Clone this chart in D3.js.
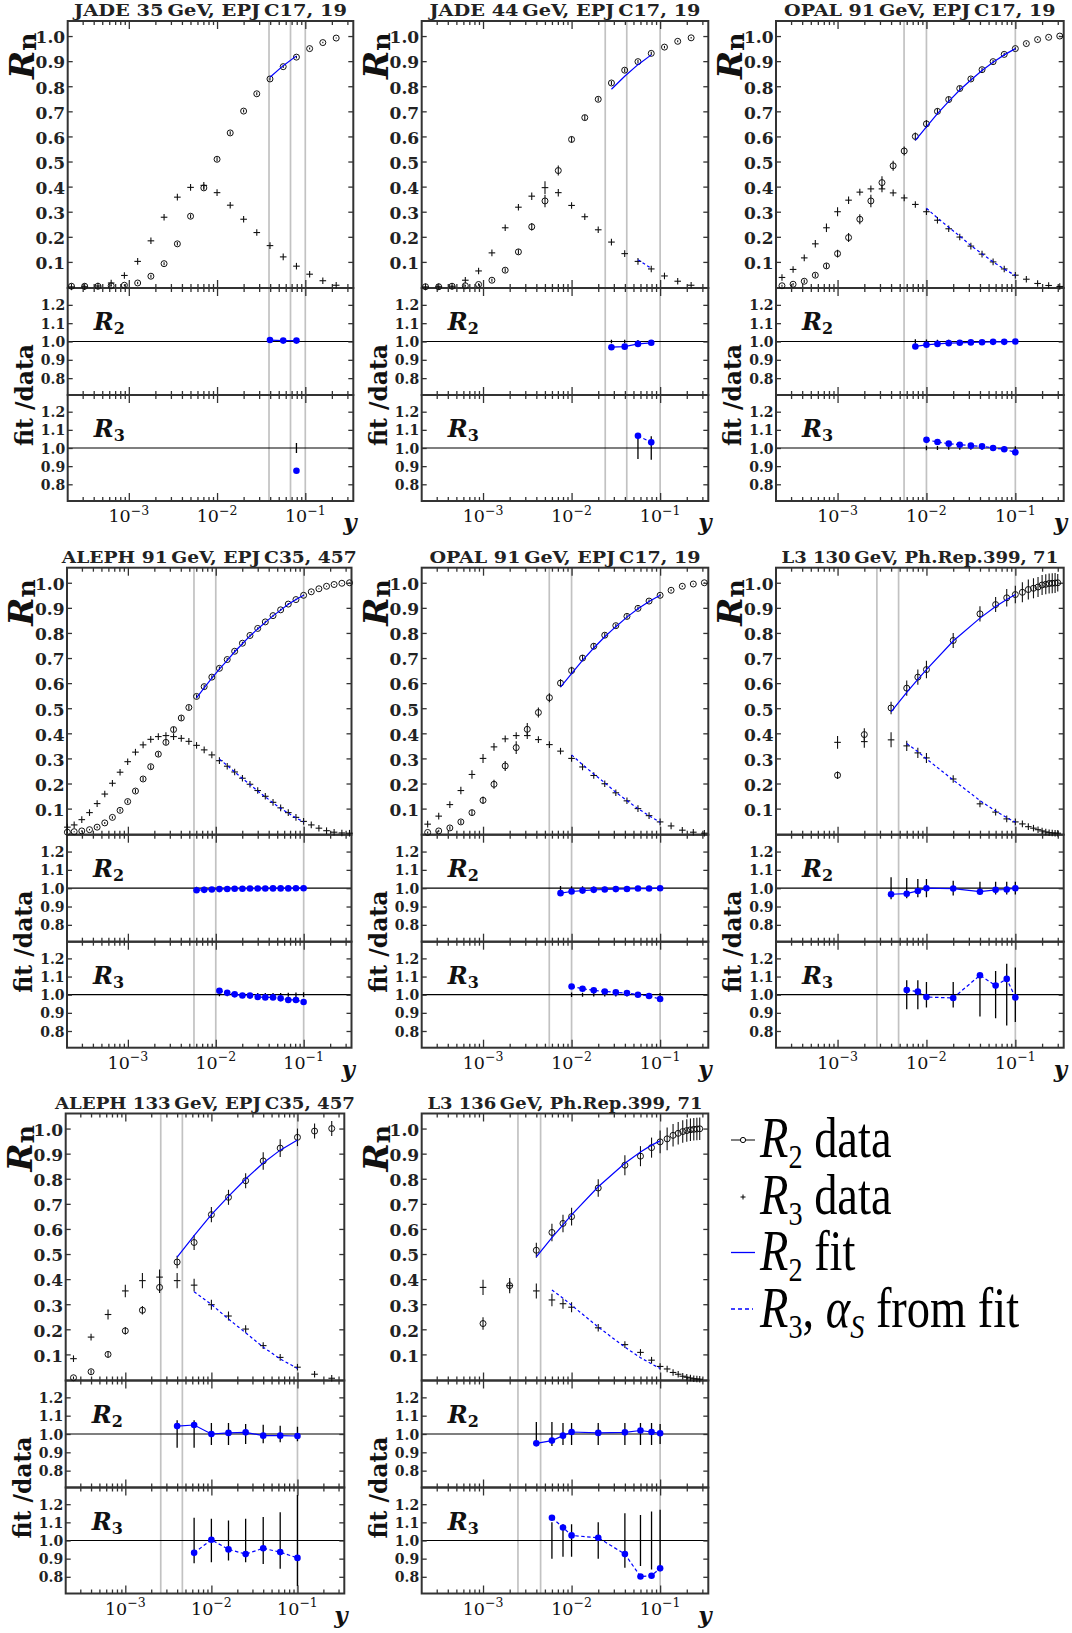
<!DOCTYPE html>
<html><head><meta charset="utf-8">
<script src="https://cdn.jsdelivr.net/npm/d3@7"></script>
<style>body{margin:0;background:#fff}svg{display:block}</style>
</head><body><svg id="c" width="1072" height="1633"></svg>
<script>
// ---------------- DATA ----------------
const titles = ["JADE 35\u2009GeV, EPJ\u2009C17, 19","JADE 44\u2009GeV, EPJ\u2009C17, 19","OPAL 91\u2009GeV, EPJ\u2009C17, 19",
  "ALEPH 91\u2009GeV, EPJ\u2009C35, 457","OPAL 91\u2009GeV, EPJ\u2009C17, 19","L3 130\u2009GeV, Ph.Rep.399, 71",
  "ALEPH 133\u2009GeV, EPJ\u2009C35, 457","L3 136\u2009GeV, Ph.Rep.399, 71"];
const mainTicks = [0.1,0.2,0.3,0.4,0.5,0.6,0.7,0.8,0.9,1.0];
const ratioTicks = [0.8,0.9,1.0,1.1,1.2];
const legendLabels = ["data","data","fit","from fit"];

// JADE
const jadeY = [2.24e-4,3.16e-4,4.47e-4,6.31e-4,8.91e-4,1.26e-3,1.78e-3,2.51e-3,3.55e-3,5.01e-3,7.08e-3,0.01,0.0141,0.02,0.0282,0.0398,0.0562,0.0794,0.112,0.158,0.224];
const jade35R2 = [0.003,0.003,0.003,0.005,0.007,0.016,0.043,0.093,0.172,0.282,0.395,0.509,0.614,0.701,0.770,0.829,0.878,0.916,0.950,0.974,0.992];
const jade35R2err = [0.002,0.002,0.002,0.003,0.004,0.005,0.006,0.006,0.007,0.008,0.008,0.008,0.007,0.006,0.006,0.006,0.005,0.005,0.004,0.003,0.002];
const jade35R3 = [0.0005,0.001,0.004,0.016,0.046,0.102,0.184,0.278,0.358,0.397,0.405,0.376,0.326,0.270,0.217,0.165,0.120,0.083,0.051,0.025,0.007];
const jade35R3err = [0.001,0.001,0.002,0.004,0.005,0.006,0.007,0.008,0.009,0.010,0.010,0.009,0.008,0.007,0.006,0.005,0.005,0.004,0.004,0.003,0.002];
const jade35FitY2 = [0.0398,0.0562,0.0794];
const jade35Fit2 = [0.836,0.882,0.921];
const jade35Ratio2 = [1.008,1.005,1.005];
const jade35Ratio2err = [0.006,0.005,0.004];
const jade35FitY3 = [0.0794];
const jade35Fit3 = [0.073];
const jade35Ratio3 = [0.875];
const jade35Ratio3err = [0.028];
const jade35Cuts = [0.0388,0.068,0.1];

const jade44R2 = [0.001,0.001,0.003,0.005,0.010,0.027,0.067,0.140,0.240,0.343,0.464,0.588,0.675,0.748,0.813,0.864,0.898,0.931,0.956,0.979,0.993];
const jade44R2err = [0.002,0.002,0.003,0.004,0.005,0.006,0.008,0.010,0.015,0.025,0.020,0.012,0.010,0.008,0.008,0.008,0.007,0.006,0.005,0.004,0.003];
const jade44R3 = [0.0005,0.001,0.003,0.027,0.064,0.136,0.236,0.318,0.362,0.396,0.376,0.325,0.280,0.228,0.179,0.133,0.102,0.072,0.044,0.023,0.007];
const jade44R3err = [0.001,0.001,0.002,0.005,0.006,0.008,0.010,0.012,0.015,0.025,0.015,0.010,0.009,0.008,0.007,0.006,0.005,0.005,0.004,0.003,0.002];
const jade44FitY2 = [0.0282,0.0398,0.0562,0.0794];
const jade44Fit2 = [0.788,0.840,0.886,0.925];
const jade44Ratio2 = [0.969,0.972,0.987,0.993];
const jade44Ratio2err = [0.010,0.009,0.008,0.007];
const jade44FitY3 = [0.0562,0.0794];
const jade44Fit3 = [0.109,0.074];
const jade44Ratio3 = [1.067,1.031];
const jade44Ratio3err = [0.060,0.065];
const jade44Cuts = [0.024,0.042,0.1];

// OPAL 91
const opalY = [2.37e-4,3.16e-4,4.22e-4,5.62e-4,7.50e-4,1.0e-3,1.33e-3,1.78e-3,2.37e-3,3.16e-3,4.22e-3,5.62e-3,7.50e-3,0.01,0.0133,0.0178,0.0237,0.0316,0.0422,0.0562,0.075,0.1,0.133,0.178,0.237,0.316];
const opalR2 = [0.005,0.011,0.023,0.047,0.084,0.133,0.197,0.270,0.343,0.416,0.483,0.542,0.600,0.650,0.700,0.747,0.791,0.829,0.866,0.898,0.927,0.950,0.970,0.986,0.995,1.000];
const opalR2err = [0.004,0.005,0.007,0.008,0.010,0.015,0.018,0.020,0.025,0.025,0.020,0.018,0.016,0.015,0.012,0.012,0.010,0.008,0.008,0.007,0.006,0.005,0.004,0.003,0.002,0.001];
const opalR3 = [0.038,0.070,0.116,0.172,0.236,0.300,0.346,0.378,0.391,0.391,0.375,0.355,0.329,0.300,0.266,0.232,0.199,0.163,0.131,0.100,0.072,0.047,0.031,0.014,0.006,0.002];
const opalR3err = [0.008,0.010,0.012,0.015,0.017,0.018,0.015,0.010,0.010,0.012,0.010,0.010,0.012,0.012,0.010,0.010,0.010,0.008,0.007,0.006,0.005,0.005,0.004,0.003,0.002,0.001];
const opalFitY2 = [7.50e-3,0.01,0.0133,0.0178,0.0237,0.0316,0.0422,0.0562,0.075,0.1];
const opalFit2 = [0.584,0.638,0.691,0.740,0.785,0.825,0.863,0.896,0.925,0.950];
const opalRatio2 = [0.973,0.982,0.987,0.991,0.993,0.995,0.996,0.998,0.998,1.000];
const opalRatio2err = [0.012,0.011,0.010,0.009,0.008,0.008,0.007,0.007,0.006,0.005];
const opalFitY3 = [0.01,0.0133,0.0178,0.0237,0.0316,0.0422,0.0562,0.075,0.1];
const opalFit3 = [0.314,0.275,0.238,0.203,0.165,0.132,0.100,0.0715,0.046];
const opalRatio3 = [1.045,1.033,1.024,1.018,1.013,1.009,1.000,0.993,0.976];
const opalRatio3err = [0.012,0.011,0.010,0.010,0.010,0.010,0.010,0.010,0.010];
const opalCuts = [0.0056,0.01,0.1];

// ALEPH 91
const aleph91Y = [2.05e-4,2.45e-4,2.99e-4,3.66e-4,4.47e-4,5.46e-4,6.67e-4,8.15e-4,9.95e-4,1.22e-3,1.49e-3,1.82e-3,2.22e-3,2.71e-3,3.31e-3,4.05e-3,4.94e-3,6.04e-3,7.38e-3,9.02e-3,0.0110,0.0135,0.0164,0.0201,0.0245,0.0300,0.0366,0.0448,0.0547,0.0668,0.0817,0.0998,0.122,0.149,0.182,0.222,0.272,0.332];
const aleph91R2 = [0.006,0.008,0.011,0.016,0.026,0.043,0.065,0.093,0.128,0.170,0.218,0.267,0.317,0.364,0.415,0.461,0.503,0.547,0.586,0.624,0.659,0.694,0.727,0.759,0.790,0.818,0.844,0.869,0.892,0.915,0.933,0.950,0.964,0.976,0.986,0.993,0.998,1.000];
const aleph91R2err = [0.002,0.002,0.003,0.003,0.004,0.004,0.005,0.006,0.007,0.008,0.008,0.009,0.009,0.010,0.010,0.010,0.009,0.008,0.008,0.007,0.007,0.006,0.006,0.006,0.005,0.005,0.005,0.004,0.004,0.004,0.003,0.003,0.003,0.002,0.002,0.002,0.001,0.001];
const aleph91R3 = [0.026,0.035,0.056,0.084,0.120,0.158,0.201,0.245,0.287,0.325,0.354,0.376,0.387,0.391,0.387,0.380,0.368,0.352,0.334,0.314,0.291,0.269,0.246,0.221,0.197,0.172,0.149,0.125,0.103,0.084,0.065,0.049,0.035,0.022,0.012,0.006,0.003,0.002];
const aleph91R3err = [0.003,0.003,0.004,0.004,0.005,0.005,0.006,0.006,0.007,0.007,0.007,0.007,0.007,0.007,0.007,0.007,0.006,0.006,0.006,0.006,0.005,0.005,0.005,0.005,0.005,0.004,0.004,0.004,0.004,0.003,0.003,0.003,0.003,0.002,0.002,0.002,0.001,0.001];
const aleph91FitY2 = [6.04e-3,7.38e-3,9.02e-3,0.0110,0.0135,0.0164,0.0201,0.0245,0.0300,0.0366,0.0448,0.0547,0.0668,0.0817,0.0998];
const aleph91Fit2 = [0.541,0.581,0.620,0.656,0.691,0.725,0.757,0.788,0.816,0.842,0.868,0.891,0.914,0.933,0.950];
const aleph91Ratio2 = [0.989,0.991,0.993,0.995,0.996,0.997,0.997,0.998,0.998,0.998,0.999,0.999,0.999,1.000,1.000];
const aleph91Ratio2err = [0.008,0.008,0.007,0.007,0.006,0.006,0.006,0.005,0.005,0.005,0.005,0.004,0.004,0.004,0.004];
const aleph91FitY3 = [0.0110,0.0135,0.0164,0.0201,0.0245,0.0300,0.0366,0.0448,0.0547,0.0668,0.0817,0.0998];
const aleph91Fit3 = [0.297,0.272,0.246,0.220,0.196,0.170,0.147,0.123,0.101,0.082,0.063,0.047];
const aleph91Ratio3 = [1.022,1.011,1.002,0.996,0.995,0.987,0.985,0.985,0.980,0.971,0.971,0.960];
const aleph91Ratio3err = [0.008,0.008,0.008,0.008,0.009,0.009,0.009,0.010,0.010,0.011,0.012,0.013];
const aleph91Cuts = [0.00565,0.01,0.1];

// L3 130
const l3a130Y = [0.001,0.002,0.004,0.006,0.008,0.01,0.02,0.04,0.06,0.08,0.1,0.12,0.14,0.16,0.18,0.2,0.22,0.24,0.26,0.28,0.30];
const l3a130R2 = [0.233,0.395,0.501,0.580,0.624,0.654,0.770,0.876,0.913,0.940,0.953,0.962,0.973,0.978,0.983,0.991,0.994,0.997,0.998,0.999,1.000];
const l3a130R2err = [0.015,0.025,0.025,0.030,0.030,0.035,0.030,0.030,0.030,0.035,0.035,0.040,0.040,0.040,0.040,0.040,0.040,0.040,0.040,0.040,0.035];
const l3a130R3 = [0.364,0.367,0.374,0.350,0.322,0.302,0.218,0.119,0.086,0.059,0.047,0.039,0.028,0.022,0.016,0.011,0.007,0.004,0.003,0.002,0.002];
const l3a130R3err = [0.025,0.025,0.030,0.020,0.020,0.020,0.015,0.012,0.010,0.008,0.006,0.005,0.005,0.004,0.004,0.003,0.003,0.002,0.002,0.002,0.002];
const l3a130FitY2 = [0.004,0.006,0.008,0.01,0.02,0.04,0.06,0.08,0.1];
const l3a130Fit2 = [0.485,0.563,0.615,0.654,0.768,0.859,0.905,0.933,0.953];
const l3a130Ratio2 = [0.967,0.970,0.985,1.000,0.998,0.981,0.991,0.993,1.000];
const l3a130Ratio2err = [0.060,0.055,0.050,0.050,0.040,0.035,0.035,0.035,0.035];
const l3a130FitY3 = [0.006,0.008,0.01,0.02,0.04,0.06,0.08,0.1];
const l3a130Fit3 = [0.359,0.327,0.298,0.214,0.132,0.090,0.064,0.046];
const l3a130Ratio3 = [1.026,1.017,0.987,0.982,1.107,1.050,1.087,0.985];
const l3a130Ratio3err = [0.080,0.080,0.070,0.070,0.120,0.130,0.170,0.150];
const l3a130Cuts = [0.00277,0.00486,0.1];

// ALEPH 133
const aleph133Y = [2.5e-4,4.0e-4,6.3e-4,1.0e-3,1.58e-3,2.5e-3,4.0e-3,6.3e-3,0.01,0.0158,0.025,0.04,0.063,0.1,0.158,0.25];
const aleph133R2 = [0.007,0.031,0.100,0.194,0.276,0.367,0.468,0.546,0.657,0.726,0.792,0.871,0.922,0.965,0.990,1.000];
const aleph133R2err = [0.005,0.008,0.012,0.015,0.017,0.022,0.025,0.030,0.030,0.030,0.030,0.035,0.035,0.035,0.030,0.030];
const aleph133R3 = [0.083,0.169,0.259,0.353,0.394,0.408,0.394,0.376,0.298,0.253,0.201,0.135,0.088,0.049,0.021,0.005];
const aleph133R3err = [0.010,0.012,0.020,0.025,0.030,0.030,0.030,0.025,0.020,0.018,0.015,0.012,0.010,0.008,0.006,0.004];
const aleph133FitY2 = [4.0e-3,6.3e-3,0.01,0.0158,0.025,0.04,0.063,0.1];
const aleph133Fit2 = [0.488,0.573,0.657,0.730,0.799,0.863,0.914,0.954];
const aleph133Ratio2 = [1.043,1.049,1.000,1.006,1.009,0.991,0.991,0.989];
const aleph133Ratio2err = [0.075,0.075,0.060,0.060,0.055,0.050,0.045,0.040];
const aleph133FitY3 = [6.3e-3,0.01,0.0158,0.025,0.04,0.063,0.1];
const aleph133Fit3 = [0.350,0.299,0.241,0.186,0.129,0.082,0.044];
const aleph133Ratio3 = [0.932,1.004,0.951,0.925,0.957,0.936,0.904];
const aleph133Ratio3err = [0.125,0.120,0.110,0.120,0.130,0.155,0.250];
const aleph133Cuts = [0.00258,0.0046,0.1];

// L3 136
const l3b136Y = [0.001,0.002,0.004,0.006,0.008,0.01,0.02,0.04,0.06,0.08,0.1,0.12,0.14,0.16,0.18,0.2,0.22,0.24,0.26,0.28];
const l3b136R2 = [0.223,0.374,0.515,0.586,0.622,0.649,0.763,0.854,0.890,0.924,0.947,0.959,0.973,0.981,0.988,0.992,0.995,0.997,0.998,0.999];
const l3b136R2err = [0.025,0.020,0.030,0.035,0.035,0.035,0.035,0.040,0.040,0.040,0.045,0.045,0.045,0.045,0.045,0.045,0.045,0.045,0.045,0.045];
const l3b136R3 = [0.367,0.374,0.353,0.317,0.302,0.288,0.206,0.139,0.108,0.077,0.052,0.042,0.028,0.021,0.013,0.009,0.006,0.003,0.002,0.001];
const l3b136R3err = [0.030,0.030,0.030,0.025,0.020,0.020,0.015,0.012,0.010,0.010,0.008,0.006,0.005,0.004,0.004,0.003,0.003,0.002,0.002,0.002];
const l3b136FitY2 = [0.004,0.006,0.008,0.01,0.02,0.04,0.06,0.08,0.1];
const l3b136Fit2 = [0.489,0.565,0.616,0.656,0.768,0.862,0.907,0.934,0.951];
const l3b136Ratio2 = [0.949,0.964,0.991,1.011,1.006,1.009,1.019,1.011,1.004];
const l3b136Ratio2err = [0.065,0.065,0.060,0.060,0.060,0.060,0.060,0.060,0.055];
const l3b136FitY3 = [0.006,0.008,0.01,0.02,0.04,0.06,0.08,0.1];
const l3b136Fit3 = [0.357,0.324,0.296,0.209,0.129,0.087,0.062,0.044];
const l3b136Ratio3 = [1.125,1.072,1.028,1.015,0.925,0.802,0.806,0.847];
const l3b136Ratio3err = [0.100,0.090,0.090,0.100,0.150,0.140,0.160,0.170];
const l3b136Cuts = [0.00248,0.00447,0.1];

// ---------------- LAYOUT ----------------
const xDomain = [2.03e-4, 0.35];
const mainDomain = [-0.004, 1.06];
const ratioDomain = [0.708, 1.292];
const MAIN_H = 267, R2_H = 107, R3_H = 106;
const layouts = [
  {left:67.7, right:353.3, top:21, tw:273},
  {left:421.7, right:708.3, top:21, tw:271},
  {left:776, right:1063.7, top:21, tw:271.6},
  {left:67, right:351.5, top:567.7, tw:295},
  {left:421.7, right:708.3, top:567.7, tw:271},
  {left:776, right:1063.7, top:567.7, tw:276.7},
  {left:65.7, right:344.3, top:1113.5, tw:300},
  {left:421.7, right:708.3, top:1113.5, tw:275},
];

function mk(title, y, R2, R2e, R3, R3e, fy2, f2, r2, r2e, fy3, f3, r3, r3e, cuts) {
  return {title, y, R2, R2e, R3, R3e, fy2, f2, r2, r2e, fy3, f3, r3, r3e, cuts};
}
const panels = [
  mk(titles[0], jadeY, jade35R2, jade35R2err, jade35R3, jade35R3err, jade35FitY2, jade35Fit2, jade35Ratio2, jade35Ratio2err, jade35FitY3, jade35Fit3, jade35Ratio3, jade35Ratio3err, jade35Cuts),
  mk(titles[1], jadeY, jade44R2, jade44R2err, jade44R3, jade44R3err, jade44FitY2, jade44Fit2, jade44Ratio2, jade44Ratio2err, jade44FitY3, jade44Fit3, jade44Ratio3, jade44Ratio3err, jade44Cuts),
  mk(titles[2], opalY, opalR2, opalR2err, opalR3, opalR3err, opalFitY2, opalFit2, opalRatio2, opalRatio2err, opalFitY3, opalFit3, opalRatio3, opalRatio3err, opalCuts),
  mk(titles[3], aleph91Y, aleph91R2, aleph91R2err, aleph91R3, aleph91R3err, aleph91FitY2, aleph91Fit2, aleph91Ratio2, aleph91Ratio2err, aleph91FitY3, aleph91Fit3, aleph91Ratio3, aleph91Ratio3err, aleph91Cuts),
  mk(titles[4], opalY, opalR2, opalR2err, opalR3, opalR3err, opalFitY2, opalFit2, opalRatio2, opalRatio2err, opalFitY3, opalFit3, opalRatio3, opalRatio3err, opalCuts),
  mk(titles[5], l3a130Y, l3a130R2, l3a130R2err, l3a130R3, l3a130R3err, l3a130FitY2, l3a130Fit2, l3a130Ratio2, l3a130Ratio2err, l3a130FitY3, l3a130Fit3, l3a130Ratio3, l3a130Ratio3err, l3a130Cuts),
  mk(titles[6], aleph133Y, aleph133R2, aleph133R2err, aleph133R3, aleph133R3err, aleph133FitY2, aleph133Fit2, aleph133Ratio2, aleph133Ratio2err, aleph133FitY3, aleph133Fit3, aleph133Ratio3, aleph133Ratio3err, aleph133Cuts),
  mk(titles[7], l3b136Y, l3b136R2, l3b136R2err, l3b136R3, l3b136R3err, l3b136FitY2, l3b136Fit2, l3b136Ratio2, l3b136Ratio2err, l3b136FitY3, l3b136Fit3, l3b136Ratio3, l3b136Ratio3err, l3b136Cuts),
];

// ---------------- DRAW ----------------
const svg = d3.select('#c');
const FS = "'DejaVu Serif', serif";
const BLUE = '#0000ff';
const defs = svg.append('defs');

function drawPanel(P, L, idx) {
  const mainB = L.top + MAIN_H, r2B = mainB + R2_H, r3B = r2B + R3_H;
  const x = d3.scaleLog().domain(xDomain).range([L.left, L.right]);
  const ym = d3.scaleLinear().domain(mainDomain).range([mainB, L.top]);
  const y2 = d3.scaleLinear().domain(ratioDomain).range([r2B, mainB]);
  const y3 = d3.scaleLinear().domain(ratioDomain).range([r3B, r2B]);
  const g = svg.append('g');

  [[mainB, r2B, 'a'], [r2B, r3B, 'b']].forEach(([t, b, k]) => {
    defs.append('clipPath').attr('id', `cp${idx}${k}`).append('rect')
      .attr('x', L.left).attr('y', t).attr('width', L.right - L.left).attr('height', b - t);
  });

  // fit-range lines
  g.append('g').selectAll('line').data(P.cuts).join('line')
    .attr('x1', d => x(d)).attr('x2', d => x(d)).attr('y1', L.top).attr('y2', r3B)
    .attr('stroke', '#c2c2c2').attr('stroke-width', 1.7);

  // ratio reference lines
  [y2, y3].forEach(ys => g.append('line').attr('x1', L.left).attr('x2', L.right)
    .attr('y1', ys(1)).attr('y2', ys(1)).attr('stroke', '#000').attr('stroke-width', 1.2));

  // axes
  const all = x.ticks();
  const isMaj = v => Math.abs(Math.log10(v) - Math.round(Math.log10(v))) < 1e-6;
  const major = all.filter(isMaj), minor = all.filter(v => !isMaj(v));
  const subs = [
    {t: L.top, b: mainB, ys: ym, ticks: mainTicks, fs: 17, dy: '0.40em'},
    {t: mainB, b: r2B, ys: y2, ticks: ratioTicks, fs: 14, dy: '0.36em'},
    {t: r2B, b: r3B, ys: y3, ticks: ratioTicks, fs: 14, dy: '0.36em'},
  ];
  subs.forEach(s => {
    const ax = g.append('g').attr('color', '#333');
    const addX = (fn, yy, vals, size) => ax.append('g').attr('transform', `translate(0,${yy})`)
      .call(fn(x).tickValues(vals).tickSizeInner(-size).tickSizeOuter(0).tickFormat(''))
      .call(a => a.select('.domain').remove());
    addX(d3.axisBottom, s.b, major, 8);
    addX(d3.axisBottom, s.b, minor, 4);
    addX(d3.axisTop, s.t, major, 8);
    addX(d3.axisTop, s.t, minor, 4);
    ax.append('g').attr('transform', `translate(${L.left},0)`)
      .call(d3.axisLeft(s.ys).tickValues(s.ticks).tickSizeInner(-5).tickSizeOuter(0).tickPadding(2.5).tickFormat(d3.format('.1f')))
      .call(a => a.select('.domain').remove())
      .call(a => a.selectAll('text').attr('font-family', FS).attr('font-weight', 'bold')
        .attr('font-size', s.fs).attr('fill', '#222').attr('dy', s.dy));
    ax.append('g').attr('transform', `translate(${L.right},0)`)
      .call(d3.axisRight(s.ys).tickValues(s.ticks).tickSizeInner(-5).tickSizeOuter(0).tickFormat(''))
      .call(a => a.select('.domain').remove());
    ax.selectAll('.tick line').attr('stroke-width', 1.3);
    g.append('rect').attr('x', L.left).attr('y', s.t).attr('width', L.right - L.left).attr('height', s.b - s.t)
      .attr('fill', 'none').attr('stroke', '#333').attr('stroke-width', 2);
  });

  // main data: R3 crosses
  const d3pts = P.y.map((v, i) => ({x: v, v: P.R3[i], e: P.R3e[i]}));
  const cg = g.append('g').attr('stroke', '#111').attr('stroke-width', 1.1);
  cg.selectAll('line.v').data(d3pts).join('line').attr('class', 'v')
    .attr('x1', d => x(d.x)).attr('x2', d => x(d.x))
    .attr('y1', d => Math.min(ym(d.v + d.e), ym(d.v) - 3.3))
    .attr('y2', d => Math.max(ym(d.v - d.e), ym(d.v) + 3.3));
  cg.selectAll('line.h').data(d3pts).join('line').attr('class', 'h')
    .attr('x1', d => x(d.x) - 3.3).attr('x2', d => x(d.x) + 3.3)
    .attr('y1', d => ym(d.v)).attr('y2', d => ym(d.v));

  // main data: R2 circles
  const d2pts = P.y.map((v, i) => ({x: v, v: P.R2[i], e: P.R2e[i]}));
  const og = g.append('g');
  og.selectAll('circle').data(d2pts).join('circle')
    .attr('cx', d => x(d.x)).attr('cy', d => ym(d.v)).attr('r', 3)
    .attr('fill', 'none').attr('stroke', '#111').attr('stroke-width', 1);
  og.selectAll('line').data(d2pts).join('line')
    .attr('x1', d => x(d.x)).attr('x2', d => x(d.x))
    .attr('y1', d => ym(d.v + d.e)).attr('y2', d => ym(d.v - d.e))
    .attr('stroke', '#111').attr('stroke-width', 1.1);

  // fits in main
  const line = d3.line().x(d => x(d[0])).y(d => ym(d[1]));
  g.append('path').attr('d', line(P.fy2.map((v, i) => [v, P.f2[i]])))
    .attr('fill', 'none').attr('stroke', BLUE).attr('stroke-width', 1.2);
  g.append('path').attr('d', line(P.fy3.map((v, i) => [v, P.f3[i]])))
    .attr('fill', 'none').attr('stroke', BLUE).attr('stroke-width', 1.2).attr('stroke-dasharray', '3,2.5');

  // ratio panels
  [[y2, P.fy2, P.r2, P.r2e, null, 'a'], [y3, P.fy3, P.r3, P.r3e, '3.5,2.5', 'b']].forEach(([ys, xs, rv, re, dash, k]) => {
    const rg = g.append('g').attr('clip-path', `url(#cp${idx}${k})`);
    const pts = xs.map((v, i) => ({x: v, v: rv[i], e: re[i]}));
    rg.selectAll('line').data(pts).join('line')
      .attr('x1', d => x(d.x)).attr('x2', d => x(d.x))
      .attr('y1', d => ys(1 + d.e)).attr('y2', d => ys(1 - d.e))
      .attr('stroke', '#000').attr('stroke-width', 1.3);
    const rl = d3.line().x(d => x(d.x)).y(d => ys(d.v));
    rg.append('path').attr('d', rl(pts)).attr('fill', 'none').attr('stroke', BLUE)
      .attr('stroke-width', 1.2).attr('stroke-dasharray', dash);
    rg.selectAll('circle').data(pts).join('circle')
      .attr('cx', d => x(d.x)).attr('cy', d => ys(d.v)).attr('r', 3.3).attr('fill', BLUE);
  });

  // R2 / R3 labels in ratio panels
  [[mainB, '2'], [r2B, '3']].forEach(([t, n]) => {
    const tx = g.append('text').attr('x', L.left + 26).attr('y', t + 42)
      .attr('font-family', FS).attr('font-weight', 'bold').attr('font-size', 24).attr('fill', '#111');
    tx.append('tspan').attr('font-style', 'italic').text('R');
    tx.append('tspan').attr('font-size', 16).attr('dy', 4).text(n);
  });

  // R_n y title
  const rn = g.append('text').attr('transform', `translate(${L.left - 34},${L.top + 58}) rotate(-90)`)
    .attr('font-family', FS).attr('font-weight', 'bold').attr('fill', '#111');
  rn.append('tspan').attr('font-style', 'italic').attr('font-size', 34).text('R');
  rn.append('tspan').attr('font-size', 25).attr('dy', 2).text('n');

  // fit/data
  g.append('text').attr('transform', `translate(${L.left - 35},${r2B}) rotate(-90)`)
    .attr('text-anchor', 'middle').attr('font-family', FS).attr('font-weight', 'bold')
    .attr('font-size', 24).attr('fill', '#111').attr('textLength', 102).attr('lengthAdjust', 'spacingAndGlyphs')
    .text('fit /data');

  // title
  g.append('text').attr('x', (L.left + L.right) / 2).attr('y', L.top - 5)
    .attr('text-anchor', 'middle').attr('font-family', FS).attr('font-weight', 'bold')
    .attr('font-size', 16.5).attr('fill', '#222').attr('textLength', L.tw).attr('lengthAdjust', 'spacingAndGlyphs')
    .text(P.title);

  // x tick labels
  major.forEach(v => {
    const t = g.append('text').attr('x', x(v)).attr('y', r3B + 21).attr('text-anchor', 'middle')
      .attr('font-family', FS).attr('fill', '#111');
    t.append('tspan').attr('font-size', 17.5).text('10');
    t.append('tspan').attr('font-size', 12.5).attr('dy', -7.5).text('\u2212' + Math.round(-Math.log10(v)));
  });

  // y axis name
  g.append('text').attr('x', L.right - 10).attr('y', r3B + 29)
    .attr('font-family', FS).attr('font-weight', 'bold').attr('font-style', 'italic')
    .attr('font-size', 23).attr('fill', '#111').text('y');
}

panels.forEach((P, i) => drawPanel(P, layouts[i], i));

// ---------------- LEGEND ----------------
const lg = svg.append('g');
const LF = "'Liberation Serif', 'DejaVu Serif', serif";
const legY = [1157, 1214, 1270, 1327];
lg.append('line').attr('x1', 731).attr('x2', 755).attr('y1', 1140).attr('y2', 1140).attr('stroke', '#000').attr('stroke-width', 1);
lg.append('circle').attr('cx', 743).attr('cy', 1140).attr('r', 2.6).attr('fill', '#fff').attr('stroke', '#000').attr('stroke-width', 1);
lg.append('line').attr('x1', 740.5).attr('x2', 745.5).attr('y1', 1197).attr('y2', 1197).attr('stroke', '#000').attr('stroke-width', 1);
lg.append('line').attr('x1', 743).attr('x2', 743).attr('y1', 1194.5).attr('y2', 1199.5).attr('stroke', '#000').attr('stroke-width', 1);
lg.append('line').attr('x1', 731).attr('x2', 755).attr('y1', 1252.5).attr('y2', 1252.5).attr('stroke', BLUE).attr('stroke-width', 1.3);
lg.append('line').attr('x1', 731).attr('x2', 753).attr('y1', 1309).attr('y2', 1309).attr('stroke', BLUE).attr('stroke-width', 1.3).attr('stroke-dasharray', '4,3');

const subs = ['2', '3', '2', '3'];
legendLabels.forEach((lab, i) => {
  const t = lg.append('text').attr('transform', `translate(760,${legY[i]}) scale(0.83,1)`)
    .attr('font-family', LF).attr('font-size', 56).attr('fill', '#000');
  t.append('tspan').attr('font-style', 'italic').text('R');
  t.append('tspan').attr('font-size', 34).attr('dy', 11).text(subs[i]);
  if (i === 3) {
    t.append('tspan').attr('dy', -11).text(', ');
    t.append('tspan').attr('font-style', 'italic').text('\u03B1');
    t.append('tspan').attr('font-style', 'italic').attr('font-size', 34).attr('dy', 11).text('S');
    t.append('tspan').attr('dy', -11).text(' ' + lab);
  } else {
    t.append('tspan').attr('dy', -11).text(' ' + lab);
  }
});
</script></body></html>
